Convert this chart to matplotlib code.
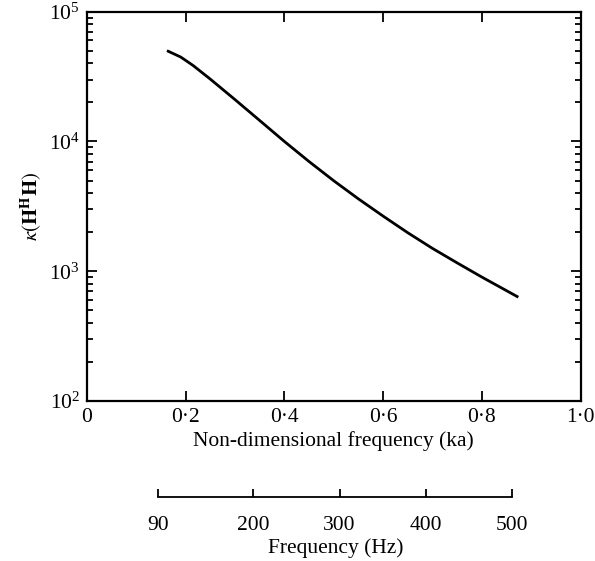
import numpy as np
import matplotlib
matplotlib.use('Agg')
import matplotlib.pyplot as plt
from matplotlib.ticker import LogLocator, NullFormatter

plt.rcParams['font.family'] = ['Liberation Serif', 'DejaVu Serif']
plt.rcParams['mathtext.fontset'] = 'stix'

# curve
ka = [0.162, 0.19, 0.215, 0.25, 0.30, 0.35, 0.40, 0.45,
      0.50, 0.55, 0.60, 0.65, 0.70, 0.75, 0.80, 0.874]
kappa = [50100, 44700, 38500, 30200, 21000, 14500, 10000, 7000,
         4980, 3610, 2660, 1980, 1500, 1160, 902, 631]

ka_ticks = [0, 0.2, 0.4, 0.6, 0.8, 1.0]
ka_labels = ['0', '0·2', '0·4', '0·6', '0·8', '1·0']
hz_ticks = [90, 200, 300, 400, 500]

fig = plt.figure(figsize=(5.95, 5.61), dpi=100)
ax = fig.add_axes([87 / 595, 1 - 401 / 561, (580.5 - 87) / 595, (401 - 11.7) / 561])

ax.plot(ka, kappa, color='black', lw=2.0, solid_capstyle='butt')

ax.set_yscale('log')
ax.set_ylim(1e2, 1e5)
ax.set_xlim(0, 1.0)
ax.set_xticks(ka_ticks)
ax.set_xticklabels(ka_labels)
ax.yaxis.set_major_locator(LogLocator(base=10, numticks=10))
ax.yaxis.set_minor_locator(LogLocator(base=10, subs=np.arange(2, 10), numticks=10))
ax.yaxis.set_minor_formatter(NullFormatter())

ax.tick_params(which='both', direction='in', top=True, right=True,
               labelsize=15.5, width=1.3)
ax.tick_params(which='major', length=7, pad=5)
ax.tick_params(which='minor', length=4)
for s in ax.spines.values():
    s.set_linewidth(1.6)

ax.set_xlabel('Non-dimensional frequency (ka)', fontsize=15.5, labelpad=3)
ax.set_ylabel(r'$\kappa(\mathbf{H}^{\mathbf{H}}\mathbf{H})$', fontsize=15, labelpad=4)

# second frequency scale underneath
ax2 = fig.add_axes([158.3 / 595, 1 - 497 / 561, (512.3 - 158.3) / 595, 1e-6])
ax2.set_xlim(90, 500)
ax2.set_xticks(hz_ticks)
ax2.set_yticks([])
for side in ['left', 'right', 'top']:
    ax2.spines[side].set_visible(False)
ax2.spines['bottom'].set_linewidth(1.3)
ax2.patch.set_visible(False)
ax2.tick_params(axis='x', direction='in', length=6, width=1.3, labelsize=15.5, pad=14)
ax2.set_xlabel('Frequency (Hz)', fontsize=15.5, labelpad=2)

fig.savefig('out.png', dpi=100)
